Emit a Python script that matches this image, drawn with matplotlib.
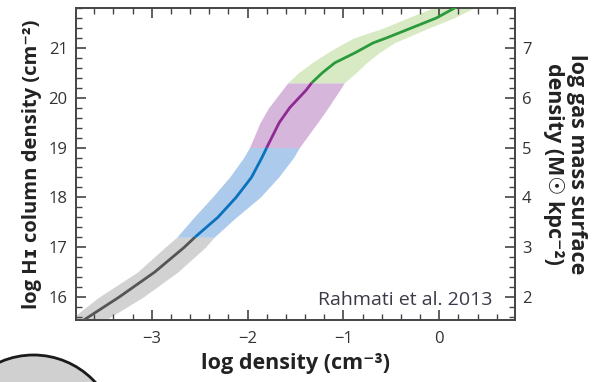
import matplotlib
matplotlib.use("Agg")
import matplotlib.pyplot as plt
import numpy as np
from matplotlib.patches import Circle
from matplotlib.ticker import MultipleLocator

plt.rcParams['font.family'] = ['Open Sans', 'DejaVu Sans']

# column density grid (log N_HI) and density (log n_H) curves
log_NHI = [15.4, 16.0, 16.5, 17.0, 17.2, 17.6, 18.0, 18.4, 18.8, 19.0, 19.5, 19.8,
           20.15, 20.3, 20.5, 20.7, 20.9, 21.1, 21.2, 21.4, 21.6, 21.8, 21.9]
median_n = [-3.82, -3.34, -2.97, -2.66, -2.55, -2.31, -2.12, -1.96, -1.85, -1.80, -1.67, -1.56,
            -1.39, -1.33, -1.22, -1.09, -0.88, -0.69, -0.55, -0.29, -0.03, 0.16, 0.25]
low_n = [-3.95, -3.55, -3.15, -2.86, -2.74, -2.56, -2.37, -2.19, -2.04, -1.98, -1.87, -1.78,
         -1.64, -1.58, -1.47, -1.33, -1.17, -0.99, -0.89, -0.58, -0.33, -0.07, 0.05]
high_n = [-3.60, -3.09, -2.73, -2.44, -2.35, -2.12, -1.87, -1.68, -1.52, -1.46, -1.27, -1.16,
          -1.04, -0.99, -0.87, -0.76, -0.63, -0.47, -0.35, -0.11, 0.15, 0.36, 0.45]

# regime boundaries in log N_HI
bounds = [15.4, 17.2, 19.0, 20.3, 21.9]
band_colors = ['#d2d2d2', '#abcaec', '#d6b6da', '#d8eac3']
line_colors = ['#555555', '#0a72bd', '#8e2a92', '#2b9a3c']

x_ticks = [-3, -2, -1, 0]
y_ticks = [16, 17, 18, 19, 20, 21]
y2_ticks = [2, 3, 4, 5, 6, 7]
offset = 14  # log gas mass surface density = log N_HI - 14

fig = plt.figure(figsize=(5.96, 3.82), dpi=100)
ax = fig.add_axes([76/596, 1-320/382, (515-76)/596, (320-8)/382])

yarr = np.array(log_NHI)
marr = np.array(median_n)
larr = np.array(low_n)
harr = np.array(high_n)
for i in range(4):
    sel = (yarr >= bounds[i] - 1e-9) & (yarr <= bounds[i+1] + 1e-9)
    ax.fill_betweenx(yarr[sel], larr[sel], harr[sel], color=band_colors[i], lw=0, zorder=1)
for i in range(4):
    sel = (yarr >= bounds[i] - 1e-9) & (yarr <= bounds[i+1] + 1e-9)
    ax.plot(marr[sel], yarr[sel], color=line_colors[i], lw=2.0, zorder=3, solid_capstyle='butt')

ax.set_xlim(-3.79, 0.79)
ax.set_ylim(15.54, 21.8)
ax.set_xticks(x_ticks)
ax.set_xticklabels(['\u22123', '\u22122', '\u22121', '0'])
ax.set_yticks(y_ticks)
ax.xaxis.set_minor_locator(MultipleLocator(0.2))
ax.yaxis.set_minor_locator(MultipleLocator(0.2))

tc = '#333333'
ax.tick_params(which='both', direction='in', top=True, right=False, color='#444444',
               labelcolor=tc, labelsize=12)
ax.tick_params(which='major', length=7, width=1.2)
ax.tick_params(which='minor', length=4, width=1.0)
ax.tick_params(axis='x', pad=8)
ax.tick_params(axis='y', pad=6)
for s in ax.spines.values():
    s.set_color('#444444')
    s.set_linewidth(1.4)

ax2 = ax.twinx()
ax2.set_ylim(15.54 - offset, 21.8 - offset)
ax2.set_yticks(y2_ticks)
ax2.yaxis.set_minor_locator(MultipleLocator(0.2))
ax2.tick_params(which='both', direction='in', color='#444444', labelcolor=tc, labelsize=12)
ax2.tick_params(which='major', length=7, width=1.2, pad=5)
ax2.tick_params(which='minor', length=4, width=1.0)
for s in ax2.spines.values():
    s.set_visible(False)

lfs = 15.5
ax.set_xlabel('log density (cm\u207b\u00b3)', fontsize=lfs, fontweight='bold', color='#222222', labelpad=4)
ax.set_ylabel('log H\u026a column density (cm\u207b\u00b2)', fontsize=14.5, fontweight='bold', color='#222222', labelpad=5)
ax2.set_ylabel('log gas mass surface\ndensity (M\u2609 kpc\u207b\u00b2)', fontsize=lfs, fontweight='bold',
               color='#222222', rotation=270, labelpad=40, linespacing=1.15)

ax.text(0.552, 15.85, 'Rahmati et al. 2013', ha='right', va='baseline', fontsize=14, color='#3a3a48')

# partial decorative disc from a neighbouring panel (bottom-left)
disc = Circle((0.335, (382-438.5)/100), 0.835, transform=fig.dpi_scale_trans,
              facecolor='#d0d0d0', edgecolor='#1a1a1a', lw=2.0, zorder=0)
fig.patches.append(disc)

fig.savefig('out.png', dpi=100)
